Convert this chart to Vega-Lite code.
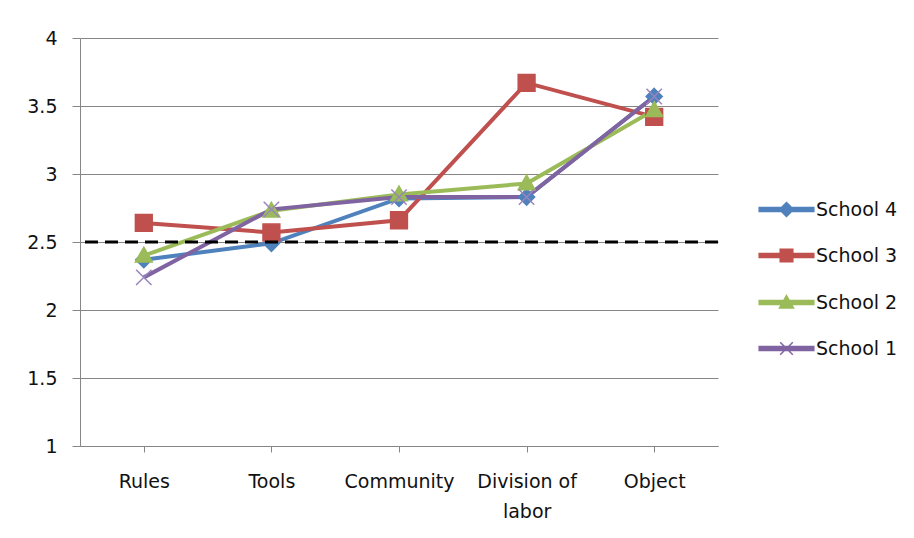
{
  "$schema": "https://vega.github.io/schema/vega-lite/v6.json",
  "width": 638,
  "height": 408,
  "autosize": "none",
  "padding": {"left": 80, "top": 38, "right": 196, "bottom": 92},
  "background": "white",
  "config": {
    "font": "DejaVu Sans",
    "view": {"stroke": null},
    "axis": {"labelFont": "DejaVu Sans", "labelFontSize": 19, "labelColor": "#111", "title": null}
  },
  "data": {
    "values": [
      {"dim": "Rules", "series": "School 4", "v": 2.37},
      {"dim": "Tools", "series": "School 4", "v": 2.49},
      {"dim": "Community", "series": "School 4", "v": 2.82},
      {"dim": "Division of labor", "series": "School 4", "v": 2.83},
      {"dim": "Object", "series": "School 4", "v": 3.57},
      {"dim": "Rules", "series": "School 3", "v": 2.64},
      {"dim": "Tools", "series": "School 3", "v": 2.57},
      {"dim": "Community", "series": "School 3", "v": 2.66},
      {"dim": "Division of labor", "series": "School 3", "v": 3.67},
      {"dim": "Object", "series": "School 3", "v": 3.42},
      {"dim": "Rules", "series": "School 2", "v": 2.4},
      {"dim": "Tools", "series": "School 2", "v": 2.73},
      {"dim": "Community", "series": "School 2", "v": 2.85},
      {"dim": "Division of labor", "series": "School 2", "v": 2.93},
      {"dim": "Object", "series": "School 2", "v": 3.47},
      {"dim": "Rules", "series": "School 1", "v": 2.24},
      {"dim": "Tools", "series": "School 1", "v": 2.74},
      {"dim": "Community", "series": "School 1", "v": 2.83},
      {"dim": "Division of labor", "series": "School 1", "v": 2.83},
      {"dim": "Object", "series": "School 1", "v": 3.57}
    ]
  },
  "layer": [
    {
      "mark": {"type": "line", "strokeWidth": 4},
      "encoding": {
        "x": {
          "field": "dim", "type": "nominal",
          "sort": ["Rules", "Tools", "Community", "Division of labor", "Object"],
          "scale": {"paddingInner": 0, "paddingOuter": 0},
          "axis": {
            "labelAngle": 0, "domainColor": "#868686", "tickColor": "#868686", "tickSize": 6,
            "labelPadding": 20, "labelLineHeight": 30, "labelBaseline": "top",
            "labelExpr": "datum.value == 'Division of labor' ? ['Division of', 'labor'] : datum.label"
          }
        },
        "y": {
          "field": "v", "type": "quantitative",
          "scale": {"domain": [1, 4], "nice": false, "zero": false},
          "axis": {
            "values": [1, 1.5, 2, 2.5, 3, 3.5, 4], "format": "~g",
            "grid": true, "gridColor": "#868686", "gridWidth": 1,
            "domainColor": "#868686", "tickColor": "#868686", "tickSize": 8, "labelPadding": 15
          }
        },
        "color": {
          "field": "series", "type": "nominal", "legend": null,
          "scale": {"domain": ["School 4", "School 3", "School 2", "School 1"], "range": ["#4F81BD", "#C0504D", "#9BBB59", "#8064A2"]}
        },
        "order": {"value": null}
      }
    },
    {
      "mark": {"type": "point", "filled": true, "size": 196, "strokeWidth": 1.5, "opacity": 1},
      "encoding": {
        "x": {"field": "dim", "type": "nominal", "sort": ["Rules", "Tools", "Community", "Division of labor", "Object"]},
        "y": {"field": "v", "type": "quantitative"},
        "fill": {
          "field": "series", "type": "nominal", "legend": null,
          "scale": {"domain": ["School 4", "School 3", "School 2", "School 1"], "range": ["#4F81BD", "#C0504D", "#9BBB59", "#8064A2"]}
        },
        "stroke": {
          "field": "series", "type": "nominal", "legend": null,
          "scale": {"domain": ["School 4", "School 3", "School 2", "School 1"], "range": ["#4F81BD", "#C0504D", "#9BBB59", "#9A84BC"]}
        },
        "shape": {
          "field": "series", "type": "nominal", "legend": null,
          "scale": {
            "domain": ["School 4", "School 3", "School 2", "School 1"],
            "range": [
              "M0,-1.15L1.15,0L0,1.15L-1.15,0Z",
              "M-1.2,-1.2H1.2V1.2H-1.2Z",
              "M0,-1.2L1.2,0.9H-1.2Z",
              "M-1.1,-1.1L1.1,1.1M-1.1,1.1L1.1,-1.1"
            ]
          }
        }
      }
    },
    {
      "mark": {"type": "point", "filled": true, "size": 196, "strokeWidth": 1.5, "opacity": 0},
      "encoding": {
        "x": {"field": "dim", "type": "nominal", "sort": ["Rules", "Tools", "Community", "Division of labor", "Object"]},
        "y": {"field": "v", "type": "quantitative"},
        "fill": {
          "field": "series", "type": "nominal",
          "scale": {"domain": ["School 4", "School 3", "School 2", "School 1"], "range": ["#4F81BD", "#C0504D", "#9BBB59", "#8064A2"]},
          "legend": {"title": null, "orient": "none", "legendX": 697, "legendY": 162, "symbolOpacity": 1, "symbolStrokeWidth": 1.5, "labelFontSize": 19, "labelFont": "DejaVu Sans", "labelColor": "#111", "labelOffset": 20, "rowPadding": 26, "symbolSize": 196}
        },
        "stroke": {
          "field": "series", "type": "nominal",
          "scale": {"domain": ["School 4", "School 3", "School 2", "School 1"], "range": ["#4F81BD", "#C0504D", "#9BBB59", "#8064A2"]},
          "legend": {"title": null, "orient": "none", "legendX": 697, "legendY": 162, "symbolOpacity": 1, "symbolStrokeWidth": 1.5, "labelFontSize": 19, "labelFont": "DejaVu Sans", "labelColor": "#111", "labelOffset": 20, "rowPadding": 26, "symbolSize": 196}
        },
        "shape": {
          "field": "series", "type": "nominal",
          "scale": {
            "domain": ["School 4", "School 3", "School 2", "School 1"],
            "range": [
              "M-3.9,-0.3H3.9V0.3H-3.9Z M0,-1L1,0L0,1L-1,0Z",
              "M-3.9,-0.3H3.9V0.3H-3.9Z M-0.9,-0.9H0.9V0.9H-0.9Z",
              "M-3.9,-0.3H3.9V0.3H-3.9Z M0,-1L1,0.8H-1Z",
              "M-3.9,-0.3H3.9V0.3H-3.9Z M-0.9,-0.9L0.9,0.9M-0.9,0.9L0.9,-0.9"
            ]
          },
          "legend": {"title": null, "orient": "none", "legendX": 697, "legendY": 162, "symbolOpacity": 1, "symbolStrokeWidth": 1.5, "labelFontSize": 19, "labelFont": "DejaVu Sans", "labelColor": "#111", "labelOffset": 20, "rowPadding": 26, "symbolSize": 196}
        }
      }
    },
    {
      "data": {"values": [{"ref": 2.5}]},
      "mark": {"type": "rule", "color": "black", "strokeWidth": 3, "strokeDash": [13, 7]},
      "encoding": {"y": {"field": "ref", "type": "quantitative"}}
    }
  ],
  "resolve": {"scale": {"color": "independent", "fill": "independent", "stroke": "independent", "shape": "independent"}}
}
